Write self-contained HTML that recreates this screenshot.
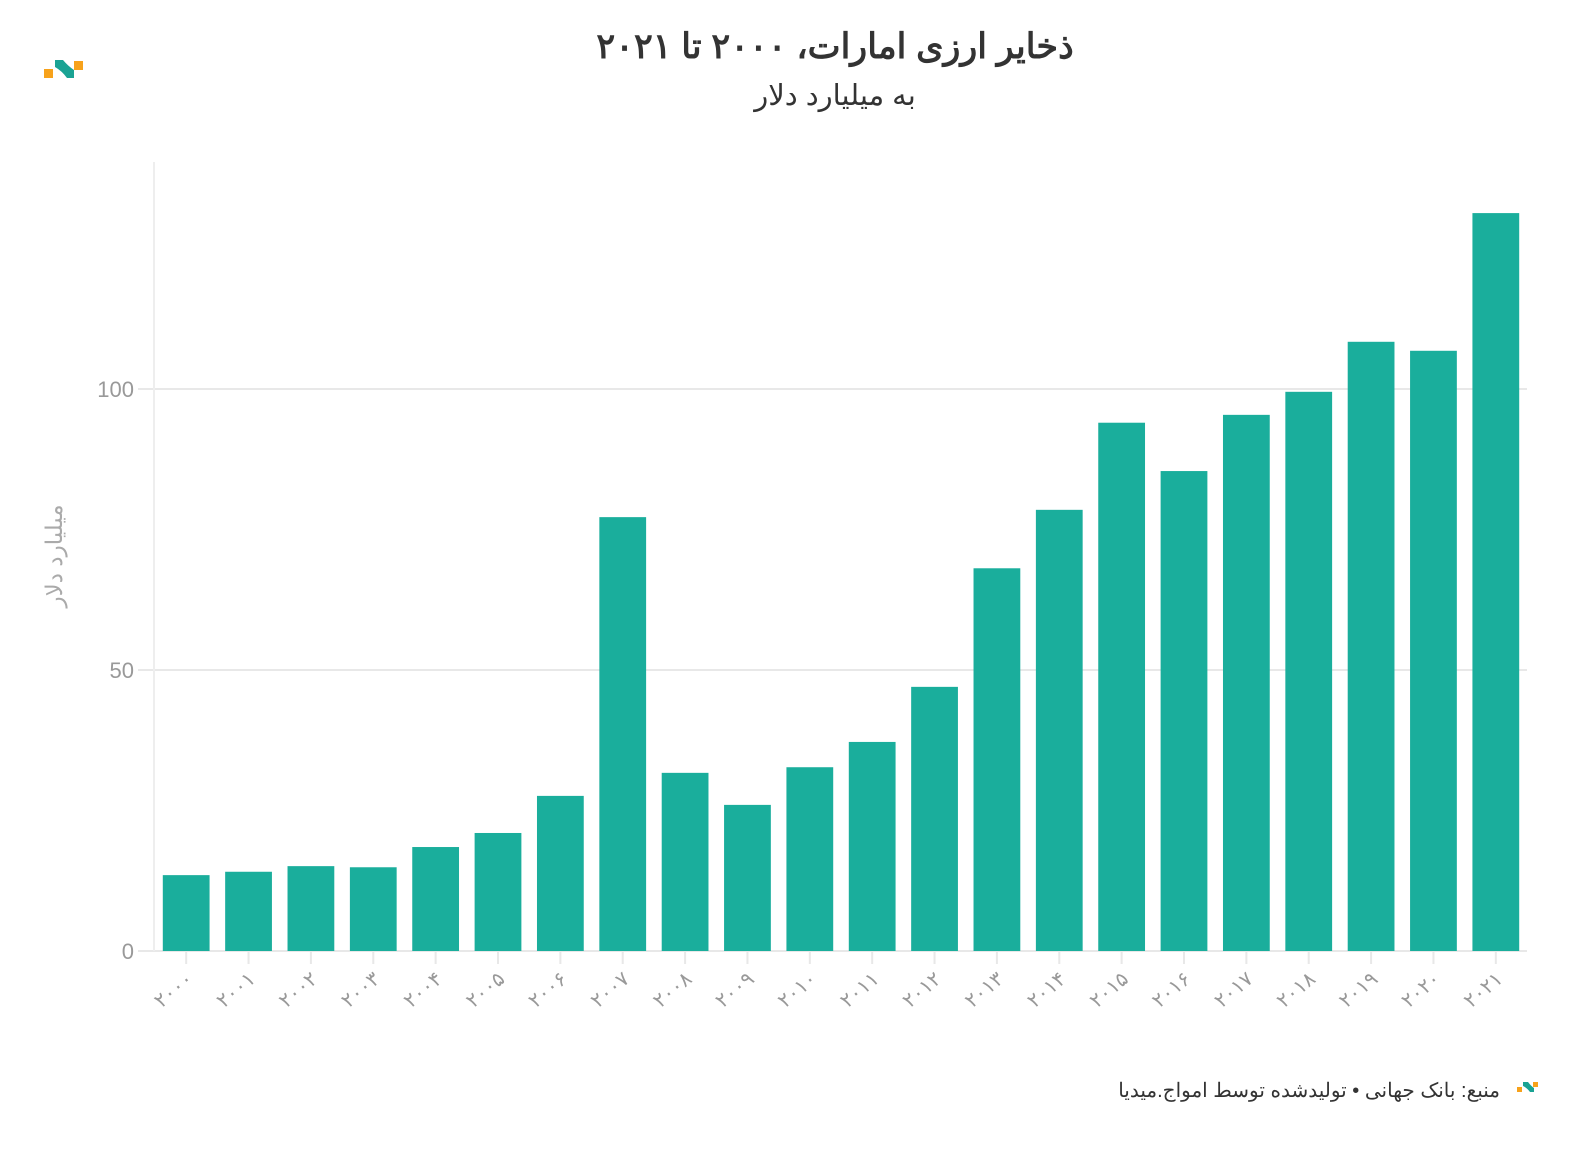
<!DOCTYPE html>
<html><head><meta charset="utf-8"><style>
body{margin:0;background:#fff;width:1588px;height:1150px;overflow:hidden;font-family:"Liberation Sans","Noto Sans CJK SC",sans-serif}
</style></head><body>
<svg width="1588" height="1150" xmlns="http://www.w3.org/2000/svg">
<g>
<rect x="44" y="69" width="9" height="9" fill="#f7a21b"/>
<path d="M55 60 L63 60 Q68 66 74 70 L74 78 L67 78 Q62 71 55 67 Z" fill="#1aa394"/>
<rect x="74" y="61" width="9" height="9" fill="#f7a21b"/>
</g>
<text x="835" y="58" text-anchor="middle" font-size="35" font-weight="bold" fill="#333" direction="rtl">ذخایر ارزی امارات، ۲۰۰۰ تا ۲۰۲۱</text>
<text x="835" y="105" text-anchor="middle" font-size="29" fill="#333" direction="rtl">به میلیارد دلار</text>
<text transform="translate(62,556) rotate(-90)" text-anchor="middle" font-size="23" fill="#aaa" direction="rtl">میلیارد دلار</text>
<g id="grid"></g><g id="bars"></g><g id="xl"></g>
<line x1="154" y1="162" x2="154" y2="951" stroke="#eee" stroke-width="2"/>
<text x="1500" y="1097" text-anchor="start" font-size="20" fill="#333" direction="rtl">منبع: بانک جهانی • تولیدشده توسط امواج.میدیا</text>
<g>
<rect x="1517" y="1087" width="5" height="5" fill="#f7a21b"/>
<path d="M1523 1082 L1528 1082 Q1531 1086 1534 1088 L1534 1092 L1530 1092 Q1527 1088 1523 1086 Z" fill="#1aa394"/>
<rect x="1533" y="1082" width="5" height="5" fill="#f7a21b"/>
</g>
</svg>
<script>
const years=["۲۰۰۰","۲۰۰۱","۲۰۰۲","۲۰۰۳","۲۰۰۴","۲۰۰۵","۲۰۰۶","۲۰۰۷","۲۰۰۸","۲۰۰۹","۲۰۱۰","۲۰۱۱","۲۰۱۲","۲۰۱۳","۲۰۱۴","۲۰۱۵","۲۰۱۶","۲۰۱۷","۲۰۱۸","۲۰۱۹","۲۰۲۰","۲۰۲۱"];
const values=[13.5,14.1,15.1,14.9,18.5,21.0,27.6,77.2,31.7,26.0,32.7,37.2,47.0,68.1,78.5,94.0,85.4,95.4,99.5,108.4,106.8,131.3];
const yTicks=[0,50,100];
const NS="http://www.w3.org/2000/svg";
const y0=951,pxPer=5.62,xl=155,xr=1527;
const y=v=>y0-v*pxPer;
const step=(xr-xl)/years.length,bw=step*0.75;
const x=i=>xl+step*i+(step-bw)/2;
function mk(t,a,p){const e=document.createElementNS(NS,t);for(const k in a)e.setAttribute(k,a[k]);document.getElementById(p).appendChild(e);return e;}
yTicks.forEach(v=>{
 const l=mk('line',{x1:138,x2:xr,y1:y(v),y2:y(v),stroke:'#e8e8e8','stroke-width':2},'grid');
 
 
 const t=mk('text',{x:134,y:y(v)+8,'text-anchor':'end','font-size':22,fill:'#999'},'grid');t.textContent=v;
 
 
});
values.forEach((v,i)=>{
 const r=mk('rect',{x:x(i),y:y(v),width:bw,height:v*pxPer,fill:'#1aae9c'},'bars');
 
 
 const cx=x(i)+bw/2;
 const tk=mk('line',{x1:cx,x2:cx,y1:y0,y2:y0+13,stroke:'#e8e8e8','stroke-width':2},'xl');
 
 
 const t=mk('text',{x:cx+8,y:y0+30,'text-anchor':'end','font-size':20,fill:'#999',transform:`rotate(-40 ${cx+8} ${y0+30})`},'xl');t.textContent=years[i];
 
 
});
</script>
</body></html>
